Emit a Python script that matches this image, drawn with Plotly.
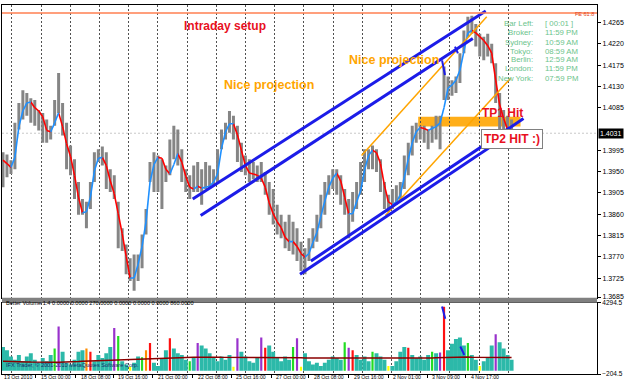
import plotly.graph_objects as go

# ---------------- price data (bar index 0..128) ----------------
ma = [1.3974, 1.3967, 1.3959, 1.3980, 1.4045, 1.4078, 1.4095, 1.4097, 1.4085, 1.4078,
      1.4066, 1.4037, 1.4034, 1.4053, 1.4074, 1.4045, 1.4009, 1.3982, 1.3942, 1.3896,
      1.3863, 1.3865, 1.3896, 1.3951, 1.3978, 1.3980, 1.3963, 1.3930, 1.3903, 1.3861,
      1.3819, 1.3771, 1.3725, 1.3725, 1.3754, 1.3792, 1.3844, 1.3928, 1.3965, 1.3980,
      1.3978, 1.3955, 1.3945, 1.3965, 1.3988, 1.3970, 1.3940, 1.3917, 1.3913, 1.3919,
      1.3915, 1.3917, 1.3919, 1.3928, 1.3945, 1.3999, 1.4034, 1.4051, 1.4051, 1.4028,
      1.3995, 1.3963, 1.3947, 1.3945, 1.3942, 1.3936, 1.3917, 1.3884, 1.3861, 1.3844,
      1.3832, 1.3811, 1.3802, 1.3802, 1.3792, 1.3777, 1.3769, 1.3777, 1.3800, 1.3821,
      1.3855, 1.3888, 1.3917, 1.3936, 1.3947, 1.3930, 1.3896, 1.3861, 1.3861, 1.3886,
      1.3909, 1.3953, 1.3984, 1.3995, 1.3990, 1.3967, 1.3921, 1.3886, 1.3880, 1.3886,
      1.3901, 1.3938, 1.3976, 1.4011, 1.4034, 1.4043, 1.4041, 1.4037, 1.4041, 1.4045,
      1.4053, 1.4085, 1.4126, 1.4133, 1.4143, 1.4164, 1.4204, 1.4243, 1.4248, 1.4243,
      1.4235, 1.4227, 1.4216, 1.4200, 1.4143, 1.4091, 1.4062, 1.4039, 1.4032]

high = [1.3991, 1.3986, 1.3974, 1.4053, 1.4095, 1.4122, 1.4116, 1.4105, 1.4101, 1.4080,
        1.4074, 1.4060, 1.4047, 1.4101, 1.4158, 1.4095, 1.4053, 1.4005, 1.3976, 1.3928,
        1.3892, 1.3886, 1.3928, 1.3991, 1.3997, 1.4003, 1.3991, 1.3955, 1.3942, 1.3886,
        1.3830, 1.3796, 1.3767, 1.3775, 1.3775, 1.3817, 1.3871, 1.3970, 1.3991, 1.3984,
        1.3976, 1.3963, 1.4018, 1.4047, 1.4039, 1.3997, 1.3955, 1.3942, 1.3963, 1.3970,
        1.3955, 1.3970, 1.3963, 1.3955, 1.3997, 1.4039, 1.4053, 1.4078, 1.4068, 1.4047,
        1.4011, 1.3984, 1.3976, 1.3970, 1.3963, 1.3970, 1.3949, 1.3928, 1.3913, 1.3880,
        1.3859, 1.3844, 1.3859, 1.3844, 1.3830, 1.3802, 1.3788, 1.3809, 1.3830, 1.3859,
        1.3901, 1.3928, 1.3942, 1.3955, 1.3955, 1.3942, 1.3913, 1.3892, 1.3907, 1.3928,
        1.3970, 1.3997, 1.3997, 1.4005, 1.3997, 1.3976, 1.3928, 1.3901, 1.3913, 1.3921,
        1.3928, 1.3984, 1.4011, 1.4047, 1.4053, 1.4047, 1.4047, 1.4039, 1.4047, 1.4068,
        1.4068, 1.4172, 1.4151, 1.4143, 1.4151, 1.4200, 1.4248, 1.4277, 1.4279, 1.4262,
        1.4241, 1.4235, 1.4241, 1.4220, 1.4179, 1.4116, 1.4080, 1.4068, 1.4060]

low = [1.3917, 1.3938, 1.3945, 1.3955, 1.4039, 1.4060, 1.4068, 1.4053, 1.4047, 1.4037,
       1.4011, 1.4011, 1.4018, 1.4047, 1.4074, 1.4026, 1.3955, 1.3942, 1.3892, 1.3859,
       1.3859, 1.3830, 1.3871, 1.3928, 1.3970, 1.3963, 1.3913, 1.3907, 1.3892, 1.3788,
       1.3782, 1.3733, 1.3719, 1.3698, 1.3719, 1.3746, 1.3817, 1.3928, 1.3907, 1.3907,
       1.3871, 1.3928, 1.3942, 1.3976, 1.3963, 1.3928, 1.3907, 1.3892, 1.3907, 1.3907,
       1.3880, 1.3913, 1.3913, 1.3921, 1.3928, 1.3997, 1.4018, 1.4032, 1.4018, 1.3970,
       1.3949, 1.3942, 1.3928, 1.3934, 1.3928, 1.3928, 1.3901, 1.3859, 1.3838, 1.3817,
       1.3809, 1.3788, 1.3782, 1.3775, 1.3761, 1.3740, 1.3733, 1.3761, 1.3788, 1.3802,
       1.3830, 1.3859, 1.3901, 1.3913, 1.3901, 1.3880, 1.3859, 1.3809, 1.3844, 1.3871,
       1.3901, 1.3928, 1.3955, 1.3955, 1.3949, 1.3907, 1.3871, 1.3865, 1.3871, 1.3880,
       1.3886, 1.3913, 1.3942, 1.3984, 1.4011, 1.4018, 1.4011, 1.3997, 1.4011, 1.4018,
       1.3997, 1.4101, 1.4101, 1.4110, 1.4116, 1.4137, 1.4200, 1.4235, 1.4241, 1.4214,
       1.4193, 1.4185, 1.4193, 1.4179, 1.4095, 1.4032, 1.4037, 1.4037, 1.4028]

bid_price = 1.4031
fe_level = 1.4285

# ---------------- Better Volume data ----------------
vol = [1500, 1300, 900, 700, 1000, 600, 900, 1100, 700, 500,
       800, 600, 1000, 1400, 2800, 1200, 500, 400, 700, 1200,
       1300, 1400, 1200, 600, 1000, 800, 1100, 1500, 2700, 2200,
       600, 400, 250, 500, 900, 850, 1300, 1750, 500, 300,
       800, 1300, 2050, 1400, 1100, 1000, 700, 600, 800, 1750,
       1600, 1400, 1100, 800, 600, 900, 700, 1000, 250, 2050,
       1200, 900, 600, 500, 800, 2100, 1450, 1600, 1200, 800,
       600, 900, 700, 1500, 2050, 250, 1100, 600, 400, 500,
       300, 500, 700, 900, 800, 700, 1800, 1450, 1300, 1000,
       700, 900, 600, 1200, 1100, 900, 700, 300, 300, 600,
       1200, 1500, 1450, 1000, 800, 900, 700, 1000, 1200, 1100,
       1150, 4050, 1300, 1700, 2000, 2100, 1600, 1750, 1000, 700,
       300, 600, 800, 1600, 2300, 1800, 1400, 1000, 700]

vol_ma = [600, 600, 590, 590, 580, 570, 560, 550, 540, 530,
          520, 520, 520, 530, 540, 540, 550, 560, 570, 580,
          600, 610, 620, 630, 640, 650, 660, 670, 690, 700,
          710, 720, 730, 740, 750, 760, 770, 780, 790, 800,
          810, 820, 830, 830, 840, 840, 850, 850, 850, 850,
          860, 860, 860, 860, 860, 850, 850, 850, 850, 860,
          860, 860, 860, 860, 860, 860, 850, 850, 850, 840,
          840, 840, 830, 830, 820, 820, 810, 810, 800, 800,
          790, 790, 780, 780, 780, 780, 790, 790, 800, 800,
          800, 800, 790, 790, 790, 780, 780, 780, 770, 770,
          780, 790, 790, 800, 800, 800, 810, 810, 810, 820,
          830, 840, 850, 850, 860, 860, 870, 870, 860, 860,
          850, 850, 840, 840, 850, 850, 840, 840, 830]

special_bar = [13, 14, 21, 22, 28, 29, 32, 35, 36, 37, 42, 47, 49, 58, 59, 65, 66,
               73, 74, 75, 86, 87, 88, 93, 97, 102, 108, 110, 111, 117, 120, 124]
special_kind = ["churn", "climax_churn", "climax_dn", "climax_up", "climax_churn", "churn",
                "low", "churn", "climax_dn", "climax_up", "climax_up", "churn", "climax_churn",
                "low", "climax_churn", "climax_churn", "climax_up", "churn", "climax_churn",
                "low", "churn", "climax_churn", "climax_up", "churn", "low", "climax_up",
                "churn", "climax_churn", "climax_up", "churn", "low", "climax_churn"]

# ---------------- chart objects (time as bar index, price) ----------------
chan_x0 = [47.75, 49.75, 77.5, 74.75]
chan_y0 = [1.3892, 1.3857, 1.3761, 1.3733]
chan_x1 = [121.5, 118.25, 131.0, 128.0]
chan_y1 = [1.4289, 1.4231, 1.4062, 1.4032]

proj_x0 = [90.25, 96.25]
proj_y0 = [1.3984, 1.3857]
proj_x1 = [121.75, 127.75]
proj_y1 = [1.4277, 1.4147]

mark_x0 = [110.5, 113.75]
mark_y0 = [1.4185, 1.4214]
mark_x1 = [111.25, 114.5]
mark_y1 = [1.4154, 1.4200]

vmark_x0 = [110.5, 115.1]
vmark_y0 = [4060, 1530]
vmark_x1 = [111.3, 116.1]
vmark_y1 = [3280, 1000]

tp_zone = [104.5, 130.25, 1.4045, 1.4066]

time_labels = ["13 Oct 2010", "15 Oct 00:00", "18 Oct 08:00", "19 Oct 16:00", "21 Oct 00:00",
               "22 Oct 08:00", "25 Oct 16:00", "27 Oct 00:00", "28 Oct 08:00", "29 Oct 16:00",
               "2 Nov 01:00", "3 Nov 09:00", "4 Nov 17:00"]
time_pos = [-0.25, 8.25, 18.25, 27.75, 37.75, 47.75, 57.5, 67.5, 77.0, 87.0, 97.0, 106.75, 116.5]

# 1.4040 sits under the bid-price box, as in the terminal
price_ticks = [1.4265, 1.4220, 1.4175, 1.4130, 1.4085, 1.3995, 1.3950,
               1.3905, 1.3860, 1.3815, 1.3770, 1.3725, 1.3685]
vol_ticks = [4294.5, -204.5]

info_labels = ["Bar Left:", "Broker:", "Sydney:", "Tokyo:", "Berlin:", "London:", "New York:"]
info_values = ["[ 00:01 ]", "11:59 PM", "10:59 AM", "08:59 AM", "12:59 AM", "11:59 PM", "07:59 PM"]

kind_color = {"churn": "#22dd22", "climax_churn": "#9932cc", "climax_up": "#ff1010",
              "climax_dn": "#ff8c00", "low": "#ffff00"}

FONT = "Liberation Sans, Arial, sans-serif"
W, H = 625, 387
ML, MR, MT, MB = 2, 24, 1, 13
PW, PH = W - ML - MR, H - MT - MB


def px_x(px):
    return (px - ML) / PW


def px_y(py):
    return (H - MB - py) / PH


fig = go.Figure()
n = len(ma)
idx = list(range(n))

# price bars
bx, by = [], []
for i in idx:
    bx += [i, i, None]
    by += [low[i], high[i], None]
fig.add_trace(go.Scatter(x=bx, y=by, mode="lines", line=dict(color="#858585", width=3),
                         hoverinfo="skip", xaxis="x", yaxis="y"))

# coloured moving average
rx, ry, ux, uy = [], [], [], []
for i in range(n - 1):
    if ma[i + 1] < ma[i]:
        rx += [i, i + 1, None]; ry += [ma[i], ma[i + 1], None]
    else:
        ux += [i, i + 1, None]; uy += [ma[i], ma[i + 1], None]
fig.add_trace(go.Scatter(x=rx, y=ry, mode="lines", line=dict(color="#ff0000", width=1.6),
                         xaxis="x", yaxis="y"))
fig.add_trace(go.Scatter(x=ux, y=uy, mode="lines", line=dict(color="#1e90ff", width=1.6),
                         xaxis="x", yaxis="y"))

# orange projections
for a, b, c, d in zip(proj_x0, proj_y0, proj_x1, proj_y1):
    fig.add_trace(go.Scatter(x=[a, c], y=[b, d], mode="lines",
                             line=dict(color="#ffa500", width=1.5), xaxis="x", yaxis="y"))
# blue channels
for a, b, c, d in zip(chan_x0, chan_y0, chan_x1, chan_y1):
    fig.add_trace(go.Scatter(x=[a, c], y=[b, d], mode="lines",
                             line=dict(color="#1c1ce8", width=3), xaxis="x", yaxis="y"))
for a, b, c, d in zip(mark_x0, mark_y0, mark_x1, mark_y1):
    fig.add_trace(go.Scatter(x=[a, c], y=[b, d], mode="lines",
                             line=dict(color="#1c1ce8", width=2), xaxis="x", yaxis="y"))

# volume histogram
kinds = {}
for b, k in zip(special_bar, special_kind):
    kinds[b] = k
norm_y = [None if i in kinds else vol[i] for i in idx]
fig.add_trace(go.Bar(x=idx, y=norm_y, marker=dict(color="#2cb9a9", line=dict(width=0)),
                     width=1.0, xaxis="x2", yaxis="y2"))
fig.add_trace(go.Bar(x=special_bar, y=[vol[b] for b in special_bar],
                     marker=dict(color=[kind_color[k] for k in special_kind], line=dict(width=0)),
                     width=0.55, xaxis="x2", yaxis="y2"))
fig.add_trace(go.Scatter(x=idx, y=vol_ma, mode="lines", line=dict(color="#8b0000", width=1.5),
                         xaxis="x2", yaxis="y2"))
for a, b, c, d in zip(vmark_x0, vmark_y0, vmark_x1, vmark_y1):
    fig.add_trace(go.Scatter(x=[a, c], y=[b, d], mode="lines",
                             line=dict(color="#1c1ce8", width=2), xaxis="x2", yaxis="y2"))

grid_pos = [2.25 + 7.35 * k for k in range(18)]
main_bottom = px_y(297)
vol_top = px_y(302)
y_top = 1.4304 - 0.000209 * 1
y_bot = 1.4304 - 0.000209 * 297

axis_common = dict(showgrid=True, gridcolor="#505050", griddash="2px,2px", gridwidth=1,
                   zeroline=False, showline=True, linecolor="#000000", linewidth=1, mirror=True,
                   tickmode="array", tickvals=grid_pos, showticklabels=False, ticks="")

fig.update_layout(
    width=W, height=H, margin=dict(l=ML, r=MR, t=MT, b=MB),
    paper_bgcolor="white", plot_bgcolor="white", showlegend=False, barmode="overlay",
    font=dict(family=FONT, size=7, color="black"),
    xaxis=dict(domain=[0, 1], range=[-0.25, 149.5], anchor="y", **axis_common),
    xaxis2=dict(domain=[0, 1], range=[-0.25, 149.5], anchor="y2", matches="x",
                minor=dict(tickmode="array", tickvals=time_pos[1:], ticks="outside", ticklen=3,
                           tickcolor="#000000", showgrid=False),
                **axis_common),
    yaxis=dict(domain=[main_bottom, 1], range=[y_bot, y_top], side="right", anchor="x",
               tickmode="array", tickvals=price_ticks, tickformat=".4f", ticks="outside",
               ticklen=3, tickcolor="#000000", showgrid=False, zeroline=False, showline=True,
               linecolor="#000000", mirror=True, tickfont=dict(size=7, family=FONT)),
    yaxis2=dict(domain=[0, vol_top], range=[-204.5, 4294.5], side="right", anchor="x2",
                tickmode="array", tickvals=vol_ticks, tickformat=".1f", ticks="outside",
                ticklen=3, tickcolor="#000000", showgrid=False, zeroline=False, showline=True,
                linecolor="#000000", mirror=True, tickfont=dict(size=6.5, family=FONT)),
)

shapes = [
    dict(type="rect", xref="paper", yref="paper", x0=0, x1=1, y0=vol_top, y1=main_bottom,
         fillcolor="#808080", line=dict(width=0), layer="above"),
    dict(type="line", xref="paper", yref="y", x0=0, x1=1, y0=bid_price, y1=bid_price,
         line=dict(color="#c8c8c8", width=1, dash="2px,2px"), layer="below"),
    dict(type="line", xref="paper", yref="y", x0=0, x1=1, y0=fe_level, y1=fe_level,
         line=dict(color="#ff7f50", width=1.5)),
    dict(type="rect", xref="x", yref="y", x0=tp_zone[0], x1=tp_zone[1], y0=tp_zone[2],
         y1=tp_zone[3], fillcolor="#ffa500", opacity=0.9, line=dict(width=0), layer="below"),
]
fig.update_layout(shapes=shapes)

ann = []
bold = dict(family=FONT, size=12, color="#e8101e")
ann.append(dict(x=55.75, y=1.4258, xref="x", yref="y", text="<b>Intraday setup</b>",
                showarrow=False, font=bold))
ann.append(dict(x=67, y=1.4133, xref="x", yref="y", text="<b>Nice projection</b>",
                showarrow=False, font=dict(family=FONT, size=12.5, color="#ffa500")))
ann.append(dict(x=86.5, y=1.4185, xref="x", yref="y", text="<b>Nice projection</b>",
                showarrow=False, xanchor="left", font=dict(family=FONT, size=12.5, color="#ffa500")))
ann.append(dict(x=120, y=1.4074, xref="x", yref="y", text="<b>TP1 Hit</b>", showarrow=False,
                xanchor="left", font=bold))
ann.append(dict(x=128, y=1.4018, xref="x", yref="y", text="<b>TP2 HIT :)</b>", showarrow=False,
                font=bold, bordercolor="#808080", borderwidth=1, borderpad=2, bgcolor="white"))
ann.append(dict(x=1, y=bid_price, xref="paper", yref="y", text="1.4031", showarrow=False,
                xanchor="left", xshift=1, bgcolor="#000000", font=dict(color="white", size=7),
                borderpad=1))
ann.append(dict(x=px_x(600), y=px_y(5), xref="paper", yref="paper", text="FE 61.8",
                showarrow=False, xanchor="right", font=dict(size=5.5, color="#e04020")))
rows_py = [13, 22.5, 32, 41, 50, 59, 68.5]
for lab, val, py in zip(info_labels, info_values, rows_py):
    ann.append(dict(x=px_x(539), y=px_y(py), xref="paper", yref="paper", text=lab,
                    showarrow=False, xanchor="right", font=dict(size=7.8, color="#6cc48c")))
    ann.append(dict(x=px_x(547), y=px_y(py), xref="paper", yref="paper", text=val,
                    showarrow=False, xanchor="left", font=dict(size=7.8, color="#6cc48c")))
ann.append(dict(x=px_x(4), y=px_y(307), xref="paper", yref="paper",
                text="Better Volume 1.4 0.0000 0.0000 270.0000 0.0000 0.0000 0.0000 860.0000",
                showarrow=False, xanchor="left", font=dict(size=5.6, color="black")))
ann.append(dict(x=px_x(4), y=px_y(370), xref="paper", yref="paper",
                text="IFX Trader, © 2001-2010 MetaQuotes Software Corp.",
                showarrow=False, xanchor="left", font=dict(size=5.6, color="#1a2a6a")))
for lab, pos in zip(time_labels, time_pos):
    ann.append(dict(x=pos, y=px_y(382), xref="x2", yref="paper", text=lab, showarrow=False,
                    xanchor="left", xshift=3 if pos > 0 else 0, font=dict(size=5.2, color="black")))
fig.update_layout(annotations=ann)

fig.write_html("out.html")
